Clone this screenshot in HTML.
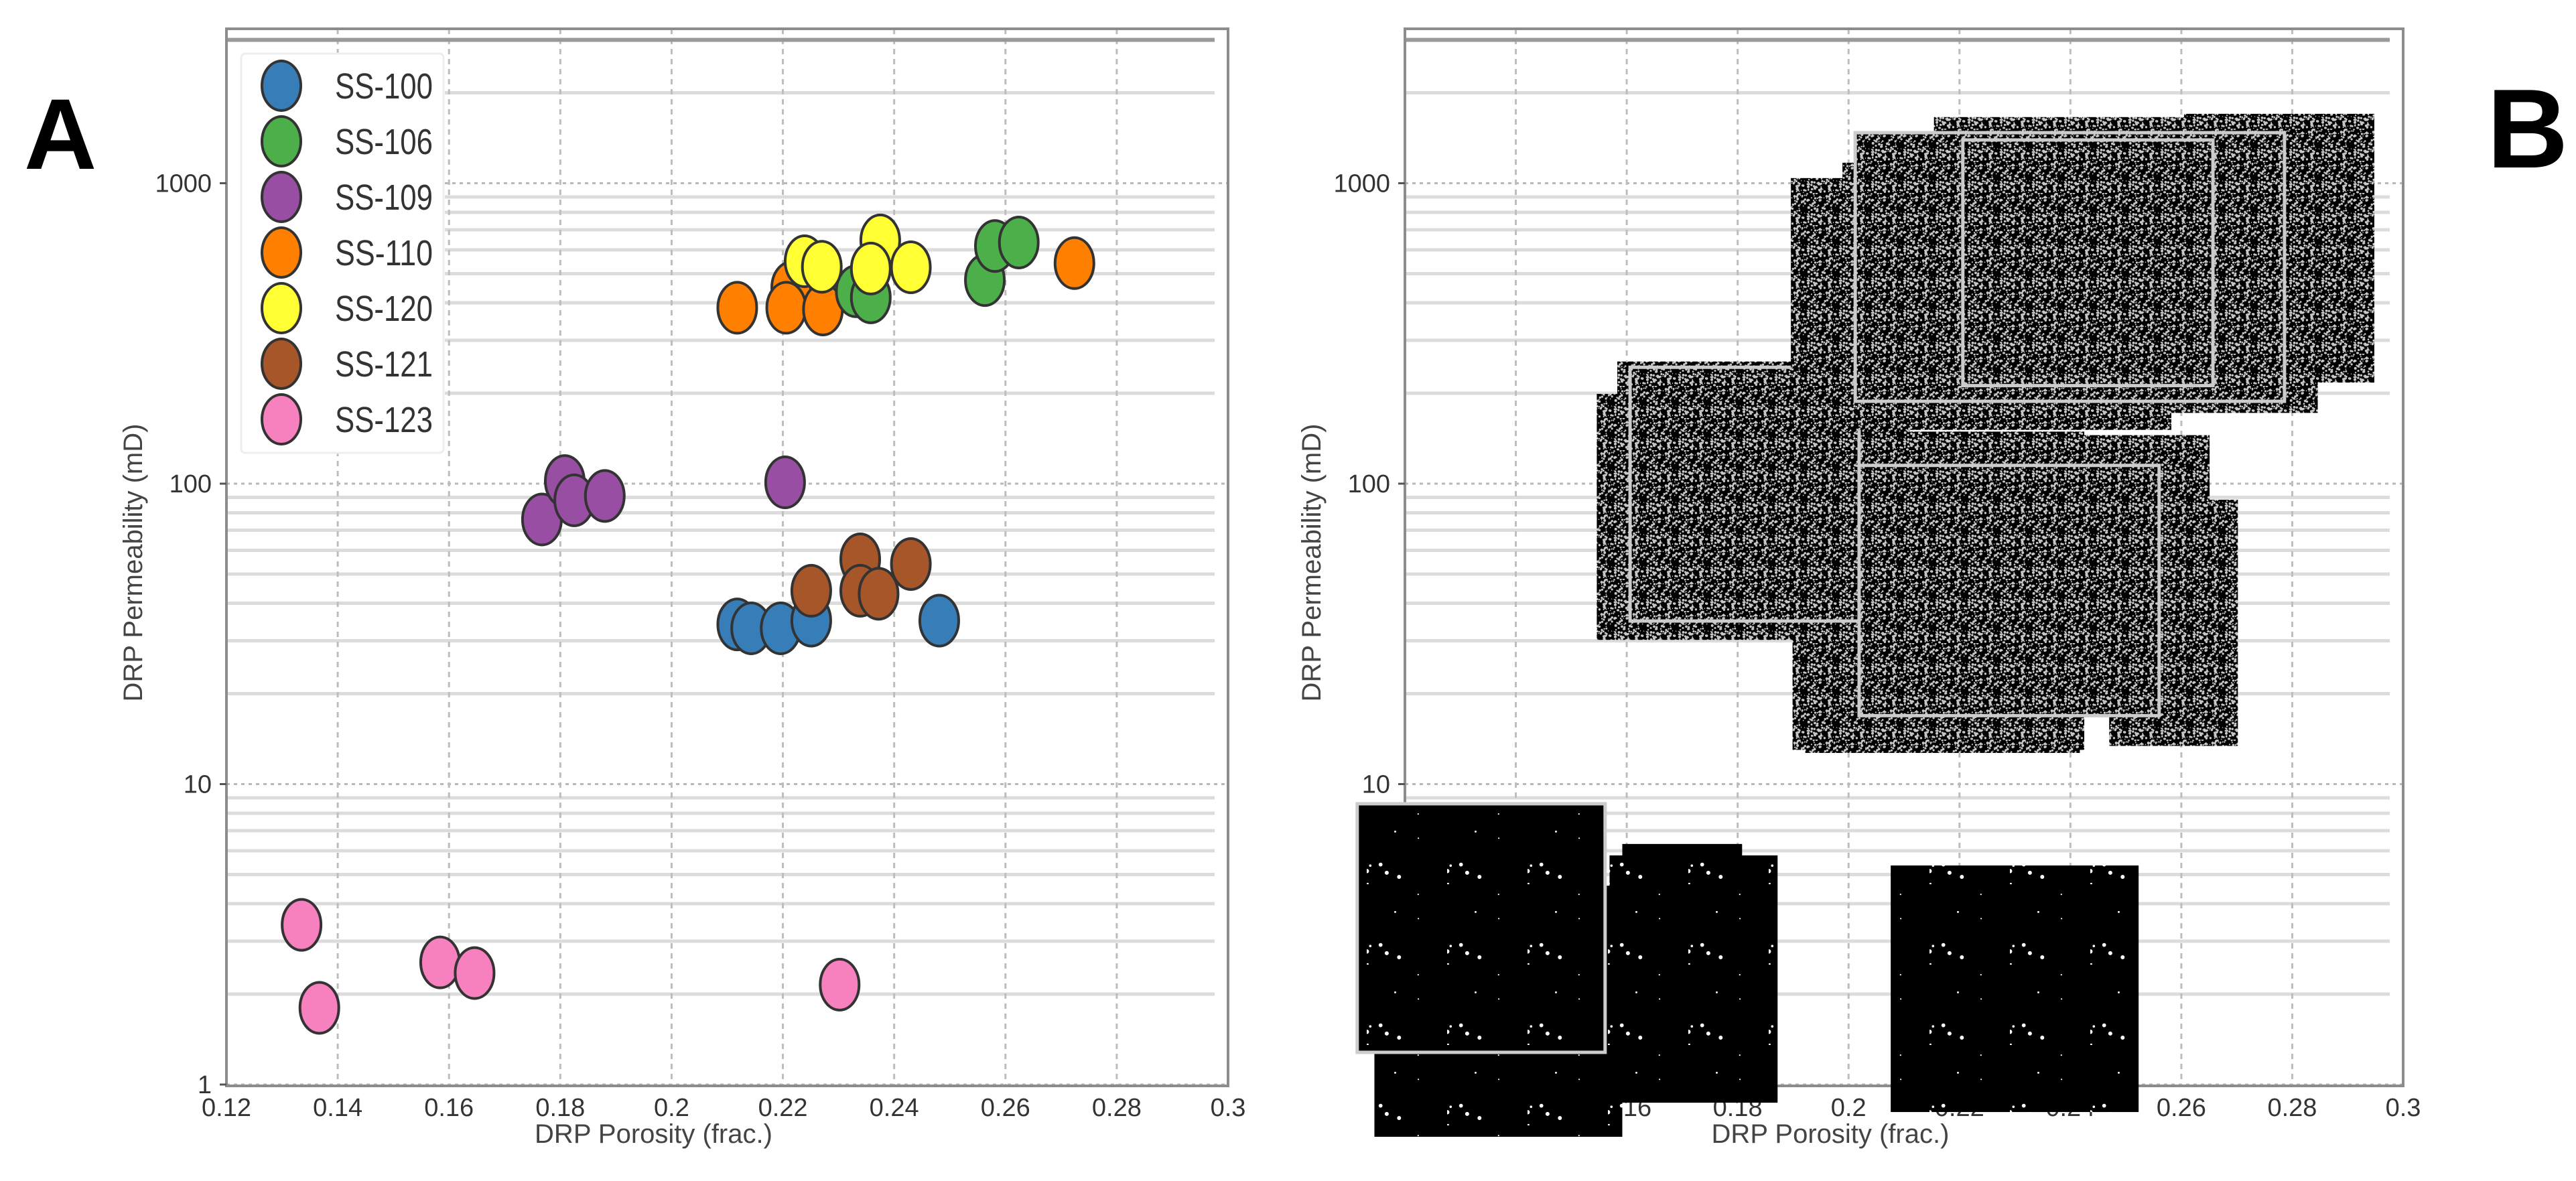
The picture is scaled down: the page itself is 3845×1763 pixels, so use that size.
<!DOCTYPE html>
<html><head><meta charset="utf-8"><style>
html,body{margin:0;padding:0;background:#fff;}
svg{display:block;font-family:"Liberation Sans",sans-serif;}
</style></head><body>
<svg id="fig" width="3845" height="1763" viewBox="0 0 3845 1763" xmlns="http://www.w3.org/2000/svg">
<defs>
<pattern id="dense" width="48" height="48" patternUnits="userSpaceOnUse"><rect width="48" height="48" fill="#000"/><g id="denseDots" fill="#c8c8c8"></g></pattern>
<pattern id="sparse" width="120" height="120" patternUnits="userSpaceOnUse"><rect width="120" height="120" fill="#000"/><g id="sparseDots" fill="#fff"></g></pattern>
</defs>
<text x="36" y="252" font-size="150" font-weight="bold" fill="#000">A</text>
<text x="3712" y="250" font-size="168" font-weight="bold" fill="#000">B</text>
<g id="panelA"></g>
<g id="panelB"></g>
</svg>
<script>
// ---- Panel A data ----
const seriesNames = ["SS-100","SS-106","SS-109","SS-110","SS-120","SS-121","SS-123"];
const seriesColors = ["#377eb8","#4daf4a","#984ea3","#ff7f00","#ffff33","#a65628","#f781bf"];
const poro100 = [0.2118,0.2143,0.2196,0.2251,0.2481];
const perm100 = [34,33,33,35,35];
const poro106 = [0.2331,0.2358,0.2563,0.2581,0.2624];
const perm106 = [437,417,476,618,635];
const poro109 = [0.1767,0.1808,0.1825,0.1880,0.2204];
const perm109 = [76,102,88,91,101];
const poro110 = [0.2118,0.2215,0.2206,0.2272,0.2724];
const perm110 = [385,450,385,380,542];
const poro120 = [0.2239,0.2270,0.2375,0.2358,0.2430];
const perm120 = [550,527,645,520,525];
const poro121 = [0.2251,0.2339,0.2339,0.2372,0.2430];
const perm121 = [44,56,44,43,54];
const poro123 = [0.1335,0.1367,0.1584,0.1646,0.2302];
const perm123 = [3.4,1.8,2.55,2.35,2.15];
const xTicks = [0.12,0.14,0.16,0.18,0.2,0.22,0.24,0.26,0.28,0.3];
const xTickLabels = ["0.12","0.14","0.16","0.18","0.2","0.22","0.24","0.26","0.28","0.3"];
const yTicks = [1,10,100,1000];
const yTickLabels = ["1","10","100","1000"];
// ---- Panel B data (image tiles, porosity/permeability extents) ----
const tileX0 = [0.1808,0.1872,0.1114,0.1145, 0.2470,0.1899,0.1922,0.1546,0.1583,0.1606,0.2110,0.2019, 0.1896,0.1989,0.2154,0.2605,0.2012,0.2206, 0.2076];
const tileX1 = [0.1592,0.1569,0.1561,0.1592, 0.2702,0.2425,0.2417,0.2019,0.2110,0.2019,0.2651,0.2560, 0.2582,0.2500,0.2846,0.2948,0.2786,0.2657, 0.2523];
const tileY0 = [6.32,5.79,8.6,4.59, 88.4,149,125,199,255,244,145,115, 1040,1170,1660,1702,1473,1393, 5.36];
const tileY1 = [0.90,0.87,1.28,0.67, 13.4,13.0,12.7,30.2,33,34.9,20.8,16.9, 151,154,172,217,188,212, 0.81];
const tileBorder = [0,0,1,0, 0,0,0,0,0,1,0,1, 0,0,0,0,1,1, 0];
const tileTex = [1,1,1,1, 0,0,0,0,0,0,0,0, 0,0,0,0,0,0, 1];

const NS="http://www.w3.org/2000/svg";
function mk(tag,attrs,parent){const e=document.createElementNS(NS,tag);for(const k in attrs)e.setAttribute(k,attrs[k]);parent.appendChild(e);return e;}

// texture dots (decorative only)
let seed=7;function rnd(){seed=(seed*16807)%2147483647;return seed/2147483647;}
const dd=document.getElementById('denseDots');
for(let i=0;i<140;i++){mk('circle',{cx:(rnd()*48).toFixed(1),cy:(rnd()*48).toFixed(1),r:(0.7+rnd()*1.3).toFixed(1)},dd);}
const sd=document.getElementById('sparseDots');
for(let i=0;i<9;i++){mk('circle',{cx:(rnd()*120).toFixed(1),cy:(rnd()*120).toFixed(1),r:(1+rnd()*2.5).toFixed(1)},sd);}

function makeAxes(g,left,right,legendBox){
  const top=43,bottom=1621;
  const xs=p=>left+(p-0.12)/0.18*(right-left);
  const ys=k=>1619-Math.log10(k)*448.5;
  const grid=mk('g',{},g);
  
  
  for(let d=1;d<=1000;d*=10){for(let m=2;m<=9;m++){const v=d*m;const y=ys(v);if(y<top)continue;
    const x0=(legendBox&&y<legendBox[3]&&y>legendBox[1])?legendBox[2]:left;
    mk('line',{x1:x0,x2:right-20,y1:y,y2:y,stroke:'#dcdcdc','stroke-width':5},grid);}}
  yTicks.forEach(v=>{const y=ys(v);const x0=(legendBox&&y<legendBox[3]&&y>legendBox[1])?legendBox[2]:left;
    mk('line',{x1:x0,x2:right,y1:y,y2:y,stroke:'#b8b8b8','stroke-width':3,'stroke-dasharray':'5,6'},grid);});
  xTicks.forEach(v=>{const x=xs(v);if(x<=left+2||x>=right-2)return;
    mk('line',{x1:x,x2:x,y1:top,y2:bottom,stroke:'#bdbdbd','stroke-width':3,'stroke-dasharray':'8,7'},grid);});
  mk('line',{x1:left,x2:right-20,y1:ys(3000),y2:ys(3000),stroke:'#999','stroke-width':6},grid);
  const frame=mk('rect',{x:left,y:top,width:right-left,height:bottom-top,fill:'none',stroke:'#8c8c8c','stroke-width':4},g);
  
  
  const tl=mk('g',{fill:'#333','font-size':38},g);
  
  
  xTicks.forEach((v,i)=>{const t=mk('text',{x:xs(v),y:1666,'text-anchor':'middle'},tl);t.textContent=xTickLabels[i];
    
    });
  yTicks.forEach((v,i)=>{const y=ys(v);mk('line',{x1:left-10,x2:left,y1:y,y2:y,stroke:'#555','stroke-width':3},tl);
    const t=mk('text',{x:left-22,y:y+13,'text-anchor':'end'},tl);t.textContent=yTickLabels[i];
    
    });
  const xl=mk('text',{x:(left+right)/2-110,y:1706,'text-anchor':'middle','font-size':40,fill:'#444'},g);
  xl.textContent='DRP Porosity (frac.)';
  
  
  const yl=mk('text',{x:0,y:0,'text-anchor':'middle','font-size':40,fill:'#444',transform:`translate(${left-126},840) rotate(-90)`},g);
  yl.textContent='DRP Permeability (mD)';
  
  
  return {xs,ys};
}

// Panel A
const gA=document.getElementById('panelA');
const A=makeAxes(gA,338,1833,[356,80,664,678]);
const leg=mk('g',{},gA);


mk('rect',{x:360,y:80,width:302,height:596,fill:'#fff',stroke:'#eeeeee','stroke-width':3,rx:6},leg);
const legY=[128,211,294,377,460,543,626];
seriesNames.forEach((n,i)=>{const e=mk('g',{},leg);
  
  
  mk('ellipse',{cx:420,cy:legY[i],rx:29,ry:37,fill:seriesColors[i],stroke:'#333','stroke-width':4},e);
  const t=mk('text',{x:500,y:legY[i]+19,'font-size':54,fill:'#333',textLength:146,lengthAdjust:'spacingAndGlyphs','font-family':'"Liberation Sans Narrow","Liberation Sans",sans-serif'},e);t.textContent=n;});
const allX=[poro100,poro106,poro109,poro110,poro120,poro121,poro123];
const allY=[perm100,perm106,perm109,perm110,perm120,perm121,perm123];
const order=[6,2,0,5,3,1,4];
order.forEach(si=>{const sg=mk('g',{},gA);
  
  
  allX[si].forEach((x,j)=>{const c=mk('ellipse',{cx:A.xs(x),cy:A.ys(allY[si][j]),rx:29,ry:38,fill:seriesColors[si],stroke:'#333','stroke-width':4},sg);
    
    });});

// Panel B
const gB=document.getElementById('panelB');
const B=makeAxes(gB,2097,3587,null);
const tiles=mk('g',{},gB);


const drawOrder=[0,1,3,2,18, 4,5,6,7,8,9,10,11, 12,13,14,15,16,17];
drawOrder.forEach(i=>{const x0=B.xs(Math.min(tileX0[i],tileX1[i])),x1=B.xs(Math.max(tileX0[i],tileX1[i]));
  const y0=B.ys(Math.max(tileY0[i],tileY1[i])),y1=B.ys(Math.min(tileY0[i],tileY1[i]));
  const r=mk('rect',{x:x0,y:y0,width:x1-x0,height:y1-y0,fill:tileTex[i]?'url(#sparse)':'url(#dense)',stroke:tileBorder[i]?'#ccc':'none','stroke-width':5},tiles);
  
  });
</script>
</body></html>
